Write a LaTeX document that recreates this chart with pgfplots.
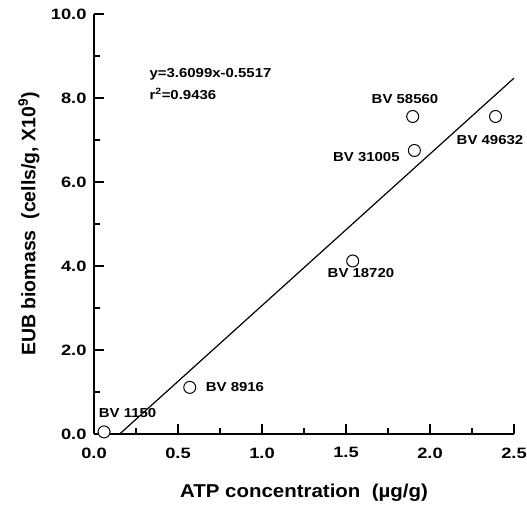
\documentclass[border=0pt]{standalone}
\usepackage{fontspec}
\setmainfont{Liberation Sans}
\newfontfamily\tickfont[FakeStretch=1.22]{Liberation Sans}
\newfontfamily\annfont[FakeStretch=1.15]{Liberation Sans}
\newfontfamily\labfont[FakeStretch=1.1]{Liberation Sans}
\usepackage{pgfplots}
\pgfplotsset{compat=1.18}
\begin{document}
\begin{tikzpicture}[font=\bfseries]
\begin{axis}[
    name=ax,
    width=420pt, height=420pt, scale only axis,
    xmin=0, xmax=2.5, ymin=0, ymax=10,
    axis x line=bottom, axis y line=left,
    axis line style={-, line width=1.8pt},
    xtick={0,0.5,...,2.5}, ytick={0,2,...,10},
    minor x tick num=1, minor y tick num=1,
    tick align=inside,
    major tick length=10pt, minor tick length=6pt,
    every tick/.style={black, line width=1.6pt},
    tick label style={font=\tickfont\fontsize{15}{17}\selectfont\bfseries},
    xticklabel style={yshift=-10pt},
    yticklabel style={xshift=-4pt},
    /pgf/number format/fixed,
    /pgf/number format/fixed zerofill,
    /pgf/number format/precision=1,
    /pgf/number format/assume math mode=true,
    xlabel={ATP concentration\ \ (µg/g)},
    ylabel={EUB biomass\ \ (cells/g, X10\textsuperscript{9})},
    xlabel style={font=\labfont\fontsize{18.6}{22}\selectfont\bfseries,
        at={([yshift=-59pt]axis description cs:0.5,0)}, anchor=center},
    ylabel style={font=\fontsize{19.5}{22}\selectfont\bfseries,
        at={([xshift=-65pt]axis description cs:0,0.5)}, anchor=center},
    clip=false,
]
% regression line y = 3.6099x - 0.5517
\addplot[black, line width=1.2pt] coordinates {(0.1528,0) (2.5,8.4731)};
% samples
\addplot[only marks, mark=*, mark size=6pt,
    mark options={fill=white, draw=black, line width=1pt}] coordinates {
    (0.06,0.05) (0.57,1.11) (1.54,4.12) (1.907,6.75) (1.897,7.56) (2.39,7.56)
};
\begin{scope}[font=\annfont\fontsize{13}{15}\selectfont\bfseries]
\node[anchor=west] at (axis cs:0.31,8.57) {y=3.6099x-0.5517};
\node[anchor=west] at (axis cs:0.31,8.10) {r\textsuperscript{2}=0.9436};
\node at (axis cs:0.20,0.50) {BV 1150};
\node[anchor=west] at (axis cs:0.645,1.11) {BV 8916};
\node at (axis cs:1.589,3.83) {BV 18720};
\node[anchor=east] at (axis cs:1.84,6.60) {BV 31005};
\node at (axis cs:1.851,7.98) {BV 58560};
\node at (axis cs:2.357,7.00) {BV 49632};
\end{scope}
\end{axis}
\pgfresetboundingbox
\path[use as bounding box] ([xshift=-94pt,yshift=-70pt]ax.south west) rectangle ++(527pt,504pt);
\end{tikzpicture}
\end{document}
